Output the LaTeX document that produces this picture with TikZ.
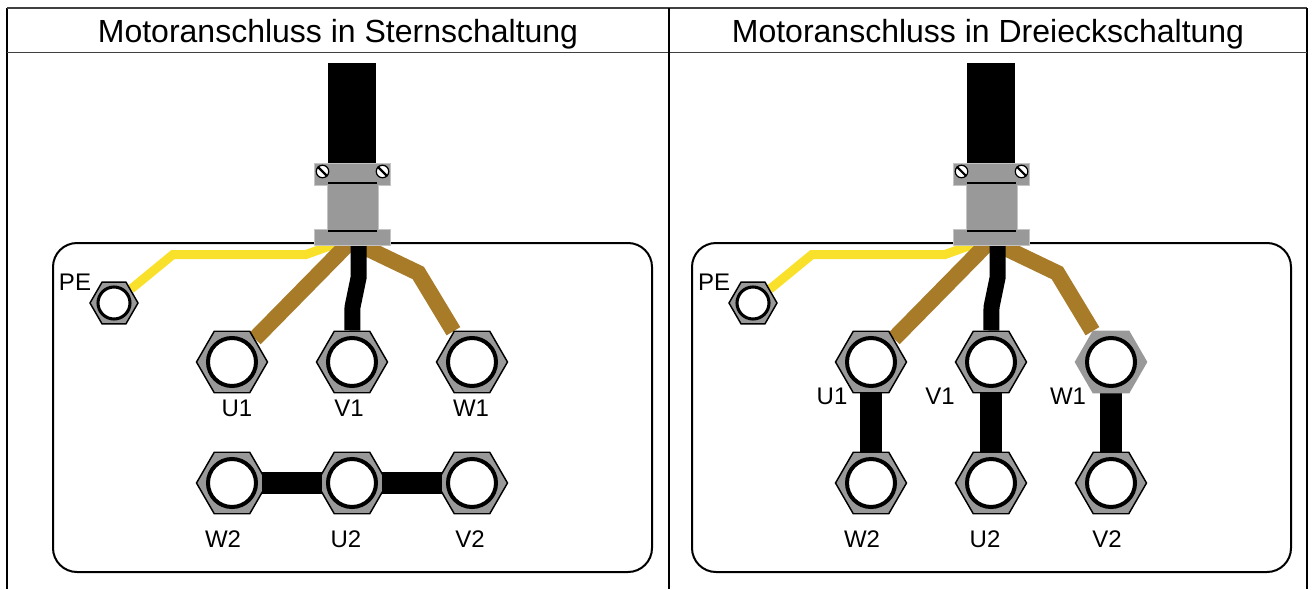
\documentclass[tikz,border=0pt]{standalone}
\usepackage{fontspec}
\setmainfont{Liberation Sans}
\usetikzlibrary{shapes.geometric,backgrounds}

\definecolor{nutgray}{HTML}{999999}
\definecolor{glandedge}{HTML}{C4C4C4}
\definecolor{wirebrown}{HTML}{A87B28}
\definecolor{wireyellow}{HTML}{F9E02B}

\tikzset{
    hexnut/.style={regular polygon, regular polygon sides=6, minimum size=71*0.75pt, inner sep=0pt, fill=nutgray, draw=black, line width=1.1pt},
    nuthole/.style={circle, minimum size=48*0.75pt, inner sep=0pt, fill=white, draw=black, line width=3pt},
    title/.style={font=\fontsize{24}{24}\selectfont},
    termlabel/.style={font=\fontsize{18}{18}\selectfont},
    wire/.style={line width=12pt, line join=miter},
    bridge/.style={line width=16pt, black},
    gland/.style={fill=nutgray, draw=glandedge, line width=0.7pt},
    screw/.style={circle, minimum size=12.5*0.75pt, inner sep=0pt, fill=white, draw=black, line width=0.9pt}
}

% the box with gland, cable and the wires coming in, #1 is the edge of nut W1
\newcommand{\motorpanel}[1]{
    \begin{pgfonlayer}{background}
        \draw[line width=1.5pt, rounded corners=18pt] (53,243) rectangle (652,572);
    \end{pgfonlayer}

    \node[hexnut, minimum size=48*0.75pt] (pe) at (114,303) {};
    \node[nuthole, minimum size=32*0.75pt, line width=2.3pt] (peh) at (pe) {};
    \foreach \name/\x/\y in {u1/232/362, v1/352/362, w2/232/483, u2/352/483, v2/472/483} {
        \node[hexnut] (\name) at (\x,\y) {};
        \node[nuthole] (\name h) at (\name) {};
    }
    \node[hexnut, draw=#1] (w1) at (472,362) {};
    \node[nuthole] (w1h) at (w1) {};

    \coordinate (yellowin) at (338,243);
    \coordinate (brownin) at (349,243);
    \coordinate (blackin) at (358.5,240);
    \coordinate (otherin) at (362,246);

    \begin{pgfonlayer}{background}
        \draw[wire, wireyellow, line width=6.75pt] (pe) -- (173,254.5) -- (306,254.5) -- (yellowin);
        \draw[wire, wirebrown] (u1) -- (brownin);
        \draw[wire, wirebrown] (w1) -- (418.3,273) -- (otherin);
        \draw[wire, black] (v1) -- (352.5,307) -- (358.5,278) -- (blackin);
    \end{pgfonlayer}

    \fill[black] (328,63) rectangle (376,165);
    \draw[gland] (314.5,163.5) rectangle (390.5,185);
    \draw[gland] (327.5,185) rectangle (378.5,229);
    \fill[nutgray] (328,180) rectangle (378,190);
    \draw[gland] (314.5,229) rectangle (390.5,245);
    \fill[nutgray] (328,225) rectangle (378,235);
    \draw[black, line width=0.9pt] (328,183) -- (377,183);
    \draw[black, line width=0.9pt] (328,231) -- (377,231);
    \foreach \name/\x in {screwl/322.5, screwr/382.5} {
        \node[screw] (\name) at (\x,171.5) {};
        \draw[black, line width=1.6pt] (\name.north west) -- (\name.south east);
    }
}

\begin{document}
\begin{tikzpicture}[x=0.75pt, y=-0.75pt]
    \useasboundingbox (0,0) rectangle (1312,589);

    % table lines
    \draw[line width=1.5pt] (7,589) -- (7,8);
    \draw[line width=1.1pt, black!75] (7,8) -- (1307,8);
    \draw[line width=1.1pt] (1307,8) -- (1307,589);
    \draw[line width=1.2pt, black!75] (7,52.5) -- (1307,52.5);
    \draw[line width=0.9pt] (669,8) -- (669,589);
    \node[title] (titlel) at (338,34) {Motoranschluss in Sternschaltung};
    \node[title] (titler) at (988,34) {Motoranschluss in Dreieckschaltung};

    \begin{scope}
        \motorpanel{black}
        \draw[bridge] ([xshift=22.5pt]w2.center) -- ([xshift=-22.5pt]u2.center);
        \draw[bridge] ([xshift=22.5pt]u2.center) -- ([xshift=-22.5pt]v2.center);
        \node[termlabel] (pel) at (75,282) {PE};
        \node[termlabel] (u1l) at (237,408) {U1};
        \node[termlabel] (v1l) at (349,408) {V1};
        \node[termlabel] (w1l) at (471,408) {W1};
        \node[termlabel] (w2l) at (223,539) {W2};
        \node[termlabel] (u2l) at (346,539) {U2};
        \node[termlabel] (v2l) at (470,539) {V2};
    \end{scope}

    \begin{scope}[xshift=479.25pt]
        \motorpanel{nutgray}
        \begin{pgfonlayer}{background}
            \draw[bridge] (u1) -- (w2);
            \draw[bridge] (v1) -- (u2);
            \draw[bridge] (w1) -- (v2);
        \end{pgfonlayer}
        \node[termlabel] (pel) at (75,282) {PE};
        \node[termlabel] (u1l) at (193,396) {U1};
        \node[termlabel] (v1l) at (301,396) {V1};
        \node[termlabel] (w1l) at (429,396) {W1};
        \node[termlabel] (w2l) at (223,539) {W2};
        \node[termlabel] (u2l) at (346,539) {U2};
        \node[termlabel] (v2l) at (468,539) {V2};
    \end{scope}
\end{tikzpicture}
\end{document}
